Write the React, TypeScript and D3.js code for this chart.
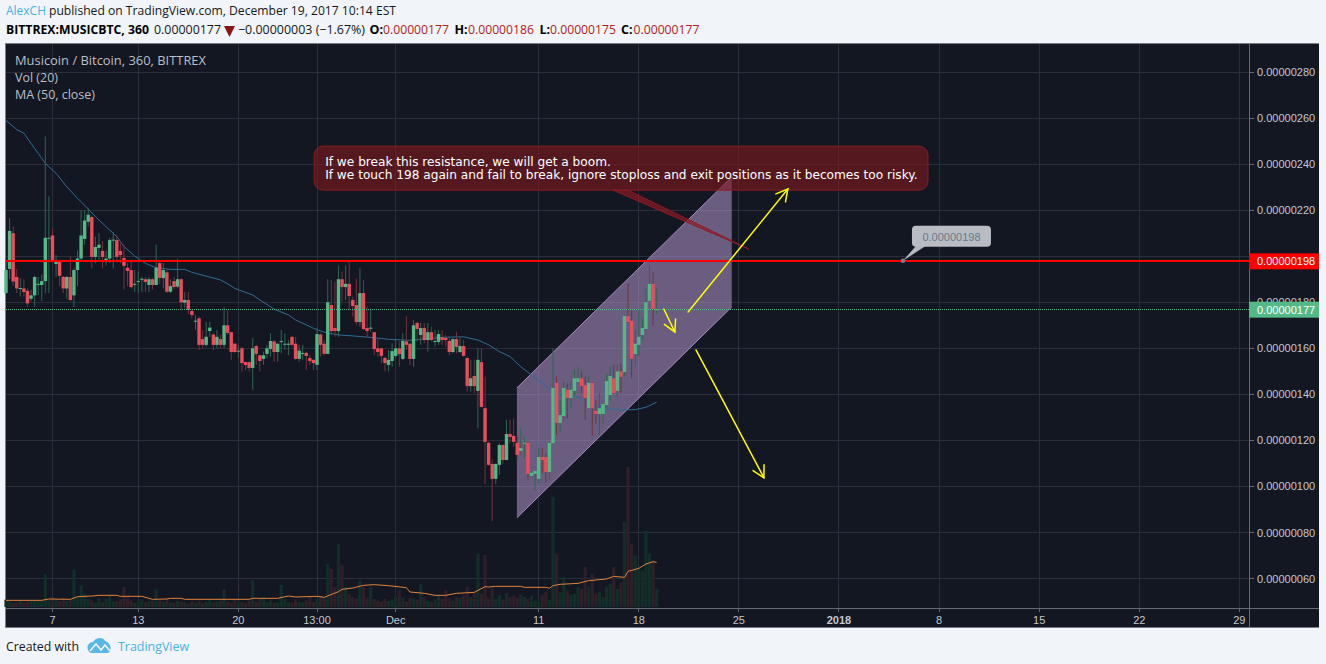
import React from "react";
import * as d3 from "d3";

const opens = [
184,194.5,210,191,185.8,186,185,181.5,183,187.7,
187.5,189.2,207.6,209,196.6,198,191,186,191,183,
194,199,207.5,215,217,199.7,203.6,202.3,197.5,199,
206.8,207,202.3,199.2,195,194,187.7,188.8,189.8,190,
187.5,190,187.5,197,190.5,193,184.6,189.2,186.8,190,
179.8,181,176.2,171.6,173,164,161.5,167.5,166,161.5,
164,161.5,170,167,162,158.6,160,154,154,151.5,
161,157,155.4,157.6,159.7,163,158.4,162.9,161.6,161.6,
165,162,155.4,157.7,158,155.8,155,152.8,166,162,
157.6,178.8,168.8,167.5,190,186.6,188,181,178.8,171.4,
184,168.8,168.5,167,160,160,155.8,152.8,154.5,156.7,
160,155.4,163,162,155.4,171,165.8,168.8,163.6,167,
162.9,162.8,164.8,164.5,163.2,158.4,164,158.4,161,155.8,
143.6,148,141.5,154,134,119,109.8,103.3,109.4,118,
111.5,122.8,122,119,115.4,118.6,119,104.6,105.5,103.3,
112.8,112.8,106.3,118.8,145,127.6,130.6,142,138.4,141.5,
145.4,147,144,134,145,132.8,131.5,131.5,135.4,139.7,
147,141.5,150,149.7,174,172,157.5,161.5,165.8,168.4,
180.6,188,177];

const closes = [
194,211,189,186,186.2,184.5,179.5,183,191,188,
189.2,208,208,197.5,198,191.5,186,191,181,194,
199,209,215.5,218,199.7,204,205,199.7,199,207,
207.2,199.7,200.5,195.8,193.6,186.6,188,189.2,190.2,188.8,
190,187.5,195,190.6,194,184.6,187,186.6,190,180,
181,176.7,174.5,172,161.5,161.5,165,169,161.5,165,
161.5,170,166.7,158.4,158.4,159,153.6,152.8,151.5,160,
157.6,154.5,157,160,163.2,158.4,162,163.2,162,162,
161.5,155.4,159,158,156.7,154.5,153.6,166.2,161.5,157.6,
180,167.5,167.5,190,186.6,188,182.7,178.4,171.4,184,
168.4,167.5,169,159.7,158.4,156.7,153.6,155,158.8,160,
157.5,163.2,161.5,155.4,170,168.4,168.8,163.6,167,163.6,
163.2,166.2,163.6,163.6,158.4,164,160.6,161,156.7,143.6,
147,143.6,155,134.5,119.4,109.4,103.3,109.8,118,111.5,
122.8,121.5,119.4,113.7,116.7,119,105.5,106,106.8,112.8,
111.5,106.3,119,142.8,127.6,131,142.8,138.4,142,147,
147,143.6,138.4,145,134,131.5,134,135.8,145.8,148,
140.6,150,147.6,174,171.4,155.4,162,165,168.8,180,
188,177.1,177];

const highs = [
198.5,216.5,213,194.5,190.5,190,186,185.5,191.5,191,
192,252,226,212,200.5,198.5,191.5,191.5,200,195,
202.5,220,220,221,217.5,208.5,210,206.5,202.5,208,
210.5,209,205.5,205,197,198.5,194,193.5,191,191,
191,190.5,205,197.5,197,194,190,191,199,190.5,
184.5,184.5,176.7,174.5,173.8,168,171.5,171.5,166.5,168,
165.8,178,176.7,167.2,162.5,161.5,160.7,154.2,154.2,164.5,
161.5,157.2,158.6,161.5,166.5,163.6,162.3,168,166.5,163.6,
165.2,165,161.5,161.5,158.6,157,155.3,168.7,166.5,163.6,
190,189.7,189,196,193.3,196,197.5,182.4,190.4,194.7,
189.7,178,176.6,167.2,164.4,160.2,156.4,159.3,162.2,163.6,
163,166.5,174,162.2,172.3,171.6,171,171,171,169.4,
168,168,168,165.8,165,164.4,167.2,164.4,163.6,156.4,
155,155,160,160,147.7,119.5,111.8,110,118.8,118.5,
129,129,129.6,121.7,125.7,121.7,119.5,106.5,107,116.6,
116.6,114.4,119.5,160,148,137.6,145.5,144.8,145.5,150.6,
152,150,147.7,147.7,145.2,137.6,140.5,136.1,149.2,152,
153,153,153.5,174.5,188,176.6,168,176.6,173,186,
196,193,186];

const lows = [
184,190,187,184,182.5,182.5,178,180.5,178,183,
180.5,184,184,197,191,187,184,181.5,180.5,178,
187,197.5,205,213,194.7,197,198.5,194.7,196,197,
194.7,197.5,197,185.5,187,186,184.5,184,184.5,184.5,
184.5,185.5,187.5,188,186,184,184,185.5,186,176.7,
177.5,175,173,168,159.3,160,160.7,165,159.3,160,
160,160,165.8,155,158,155.7,150,150.6,150,142,
152.8,150,152.8,155.7,156.4,154.2,154.2,157.8,159.3,157,
160.7,155,154.2,155,150.6,152.8,150.6,150.6,156.4,157,
157.5,165.8,165,165,180.3,181,176.6,173.8,170,169.4,
168,165,167.2,157,156.4,153.5,150,150,152,155.7,
152,155,159.3,152.8,152,163,161.5,162.2,158.6,163,
160.7,161.5,161.5,160.7,157,157.8,157.8,157.8,156.4,141.2,
141.2,140.5,125.3,134.5,101,109,85,101,105,110,
111.5,118.8,117.3,112.3,113.7,112.3,103,104.3,98.2,101.4,
105.8,101.7,103,118.8,122.4,123.8,129,129.6,134,139.7,
144.8,140.5,129,134,122,127.4,122.4,127.4,134.7,137.6,
140.5,139.3,140.5,147.7,171,147,152,156.4,163.6,168,
180.3,170,175];

const volumes = [
22,18,12,14,20,12,16,18,20,18,
20,98,22,30,25,18,28,18,24,111,
30,65,40,25,20,12,26,14,24,34,
16,18,24,60,35,20,12,16,22,14,
18,20,53,22,16,28,14,12,18,16,
14,10,18,12,20,10,16,22,14,16,
20,53,16,12,22,12,14,10,20,81,
16,24,30,14,20,12,14,66,24,14,
12,22,16,14,20,30,14,26,34,28,
129,114,60,189,125,60,40,30,25,79,
62,28,60,24,20,16,24,18,22,30,
50,28,16,28,24,22,68,30,20,16,
22,36,24,50,26,20,30,28,36,60,
30,44,161,40,156,28,56,24,36,22,
42,30,34,28,38,30,24,34,20,16,
38,46,22,330,160,44,90,50,38,40,
60,54,120,62,100,40,46,30,62,70,
120,54,72,255,420,190,155,120,110,228,
160,140,55];

const maIdx = [0,3,5,7,9,11,14,17,20,21,23,25,28,31,33,36,39,42,46,50,52,53,60,62,64,69,71,75,79,81,83,86,89,93,97,103,107,113,118,122,128,132,135,138,141,144,147,150,153,155,160,164,167,171,176,179,182];
const maVal = [259,255,253.4,249,244.7,240.3,236,230.2,225.1,223.7,220.5,217.2,212.8,208.5,204.2,200.1,196.9,195,194.3,194.3,193,192.6,189.7,188,186,183.2,181,177,174.5,172.3,170.9,168.7,167,165.8,165.4,164.6,163.9,163.5,164.2,164.8,165,163.6,161.5,158.6,156.4,152,148.4,144.8,141.2,140,138.7,135.4,134.4,133.2,133.4,134.4,136.6];

const volMaIdx = [0,10,12,18,20,24,26,31,32,38,41,45,46,49,50,68,69,76,79,81,87,89,93,94,97,100,103,107,112,113,117,120,123,126,131,134,135,137,144,145,151,152,153,155,160,163,168,170,173,174,177,179,181,182];
const volMaVal = [20,20,24,23,31,33,35,35,32,32,23,24,26,26,23,23,26,26,33,30,32,29,46,53,57,65,67,64,58,45,41,35,35,41,44,61,60,62,62,59,59,56,64,68,71,79,84,92,89,107,116,129,136,134];

const priceGrid = [280,260,240,220,200,180,160,140,120,100,80,60];
const priceLabels = [280,260,240,220,180,160,140,120,100,80,60];
const timeTickIdx = [13,37,65,87,109,149,177,205,233,261,289,317,345];
const timeTickLabels = ["7","13","20","13:00","Dec","11","18","25","2018","8","15","22","29"];

const channelPts = [[142.9,142.8],[142.9,86.4],[203,178],[203,234.4]];
const arrowLines = [
  [[190.8,175.8],[218.7,229.2]],
  [[184,177.1],[187.1,167.1]],
  [[193,159.3],[212,103.8]],
];
const resistance = 198;
const lastPrice = 177;
const calloutBox = { i0: 86.2, i1: 257.9, p0: 247.8, p1: 228.7 };
const calloutTail = [[169.8,228.7],[207.8,203.1],[174,228.7]];
const tagAnchor = [250.9, 198];
const calloutLines = [
  "If we break this resistance, we will get a boom.",
  "If we touch 198 again and fail to break, ignore stoploss and exit positions as it becomes too risky.",
];

const x = d3.scaleLinear().domain([0, 345]).range([6, 6 + 345 * 3.575]);
const y = d3.scaleLinear().domain([60, 280]).range([578.6, 72]);
const v = d3.scaleLinear().domain([0, 300]).range([607, 507]);
const fmt = (p: number) => "0." + String(Math.round(p)).padStart(8, "0");

const UP = "#53b987", DOWN = "#eb4d5c", UPW = "#2f6653", DOWNW = "#74333f";
const GRID = "#2a2e3a", BG = "#131722", PAGE = "#f1f4f8";
const SANS = "'Open Sans', sans-serif";
const ARIAL = "'Liberation Sans', Arial, sans-serif";

function Arrow({ a, b }: { a: number[]; b: number[] }) {
  const [x0, y0, x1, y1] = [x(a[0]), y(a[1]), x(b[0]), y(b[1])];
  const ang = Math.atan2(y1 - y0, x1 - x0);
  const len = 13, sp = 0.5;
  const head = (s: number) => [x1 - len * Math.cos(ang + s * sp), y1 - len * Math.sin(ang + s * sp)];
  const p = head(1), q = head(-1);
  return (
    <g stroke="#ffff00" strokeWidth={1.5} fill="none" strokeLinecap="round">
      <line x1={x0} y1={y0} x2={x1} y2={y1} />
      <path d={`M${p[0]},${p[1]}L${x1},${y1}L${q[0]},${q[1]}`} />
    </g>
  );
}

export default function App() {
  const maLine = d3.line<number>().x((i) => x(i)).y((_, k) => y(maVal[k]));
  const volLine = d3.line<number>().x((i) => x(i)).y((_, k) => v(volMaVal[k]));
  const yRes = y(resistance), yLast = y(lastPrice);
  const box = { x: x(calloutBox.i0), w: x(calloutBox.i1) - x(calloutBox.i0), y: y(calloutBox.p0), h: y(calloutBox.p1) - y(calloutBox.p0) };
  const tx = x(tagAnchor[0]), ty = y(tagAnchor[1]);
  const L = 6, R = 1250, PR = 1319, T = 44, B = 627, AX = 608;
  return (
    <svg width={1326} height={664} style={{ position: "absolute", left: 0, top: 0, display: "block" }}>
      <rect width={1326} height={664} fill={PAGE} />
      <rect x={5} y={43} width={PR - 5} height={B - 43 + 1} fill="#7b7e87" />
      <rect x={L} y={T} width={PR - L} height={B - T} fill={BG} />

      {/* grid */}
      <g stroke={GRID} strokeWidth={1} shapeRendering="crispEdges">
        {priceGrid.map((p) => <line key={p} x1={L} x2={R} y1={y(p)} y2={y(p)} />)}
        {timeTickIdx.map((i) => <line key={i} x1={x(i)} x2={x(i)} y1={T} y2={AX} />)}
      </g>

      {/* channel */}
      <polygon points={channelPts.map((p) => `${x(p[0])},${y(p[1])}`).join(" ")} fill="rgb(179,152,205)" fillOpacity={0.55} />
      <line x1={x(channelPts[0][0])} y1={y(channelPts[0][1])} x2={x(channelPts[3][0])} y2={y(channelPts[3][1])} stroke="#a88cc2" />
      <line x1={x(channelPts[1][0])} y1={y(channelPts[1][1])} x2={x(channelPts[2][0])} y2={y(channelPts[2][1])} stroke="#a88cc2" />

      {/* volume */}
      <g>
        {volumes.map((vol, i) => (
          <rect key={i} x={x(i) - 1.6} y={v(vol)} width={3.2} height={v(0) - v(vol)}
            fill={closes[i] >= opens[i] ? "#132e28" : "#2e1f29"} />
        ))}
      </g>
      <path d={volLine(volMaIdx) || ""} fill="none" stroke="#e0833a" strokeWidth={1} />
      <path d={maLine(maIdx) || ""} fill="none" stroke="#2f6d94" strokeWidth={1} />

      {/* candles */}
      <g>
        {opens.map((o, i) => {
          const c = closes[i], up = c >= o, cx = x(i);
          const top = y(Math.max(o, c)), bot = y(Math.min(o, c));
          return (
            <g key={i}>
              <rect x={cx - 0.5} y={y(highs[i])} width={1} height={y(lows[i]) - y(highs[i])} fill={up ? UPW : DOWNW} />
              <rect x={cx - 1.7} y={top} width={3.4} height={Math.max(1, bot - top)} fill={up ? UP : DOWN} />
            </g>
          );
        })}
      </g>

      {/* price lines */}
      <line x1={L} x2={R} y1={yLast} y2={yLast} stroke={UP} strokeWidth={1} strokeDasharray="1 1" shapeRendering="crispEdges" />
      <rect x={L} y={yRes - 1} width={R - L} height={2} fill="#ff0000" shapeRendering="crispEdges" />

      {/* callout */}
      <polygon points={calloutTail.map((p) => `${x(p[0])},${y(p[1])}`).join(" ")} fill="rgba(150,25,30,0.65)" stroke="#8a1c24" strokeWidth={1} />
      <rect x={box.x} y={box.y} width={box.w} height={box.h} rx={9} fill="rgba(130,25,30,0.6)" stroke="#8a1c24" strokeWidth={1} />
      <g fill="#ffffff" fontFamily="'DejaVu Sans', sans-serif" fontSize={12.15}>
        {calloutLines.map((t, k) => (
          <text key={k} x={box.x + 11} y={box.y + 20 + k * 13}>{t}</text>
        ))}
      </g>

      {/* arrows */}
      {arrowLines.map((a, k) => <Arrow key={k} a={a[0]} b={a[1]} />)}

      {/* price tag */}
      <polygon points={`${tx},${ty} ${tx + 14},${ty - 16} ${tx + 23},${ty - 15}`} fill="#b4b8bd" />
      <circle cx={tx} cy={ty} r={2.2} fill="#78808a" />
      <rect x={tx + 9} y={ty - 35} width={79} height={21} rx={4} fill="#b9bdc2" />
      <text x={tx + 48.5} y={ty - 20} fontFamily={ARIAL} fontSize={11} fill="#657a8c" textAnchor="middle">{fmt(resistance)}</text>

      {/* right axis */}
      <rect x={R - 1} y={T} width={1} height={B - T} fill="#666a73" shapeRendering="crispEdges" />
      <rect x={L} y={AX} width={PR - L} height={1} fill="#666a73" shapeRendering="crispEdges" />
      <g fontFamily={ARIAL} fontSize={11} fill="#c4c7cd">
        {priceLabels.map((p) => (
          <g key={p}>
            <line x1={R} x2={R + 4} y1={y(p)} y2={y(p)} stroke="#666a73" shapeRendering="crispEdges" />
            <text x={R + 7} y={y(p) + 4}>{fmt(p)}</text>
          </g>
        ))}
      </g>
      <rect x={R - 1} y={yRes - 7.5} width={PR - R + 1} height={16} fill="#ff0000" />
      <text x={R + 7} y={yRes + 4.5} fontFamily={ARIAL} fontSize={11} fill="#fff">{fmt(resistance)}</text>
      <rect x={R - 1} y={yLast - 7.5} width={PR - R + 1} height={16} fill={UP} />
      <text x={R + 7} y={yLast + 4.5} fontFamily={ARIAL} fontSize={11} fill="#fff">{fmt(lastPrice)}</text>

      {/* bottom axis */}
      <g fontFamily={ARIAL} fontSize={11} fill="#c4c7cd" textAnchor="middle">
        {timeTickIdx.map((i, k) => (
          <g key={i}>
            <line x1={x(i)} x2={x(i)} y1={AX} y2={AX + 4} stroke="#666a73" shapeRendering="crispEdges" />
            <text x={x(i)} y={624} fontWeight={timeTickLabels[k] === "2018" ? "bold" : "normal"}>{timeTickLabels[k]}</text>
          </g>
        ))}
      </g>

      {/* legend */}
      <g fontFamily={SANS} fontSize={12.5} fill="#bcbfc6">
        <text x={15} y={65} textLength={191} lengthAdjust="spacingAndGlyphs">Musicoin / Bitcoin, 360, BITTREX</text>
        <text x={15} y={82} textLength={43} lengthAdjust="spacingAndGlyphs">Vol (20)</text>
        <text x={15} y={99} textLength={80} lengthAdjust="spacingAndGlyphs">MA (50, close)</text>
      </g>

      {/* header */}
      <g fontFamily={SANS} fontSize={12.5}>
        <text x={6} y={15} fill="#45b3e7" textLength={40} lengthAdjust="spacingAndGlyphs">AlexCH</text>
        <text x={49} y={15} fill="#131722" textLength={347} lengthAdjust="spacingAndGlyphs">published on TradingView.com, December 19, 2017 10:14 EST</text>
        <text x={6} y={34} fill="#000" fontWeight="bold" textLength={143} lengthAdjust="spacingAndGlyphs">BITTREX:MUSICBTC, 360</text>
        <text x={154} y={34} fill="#131722" textLength={67} lengthAdjust="spacingAndGlyphs">{fmt(177)}</text>
        <polygon points="224,26 235,26 229.5,37" fill="#8b1414" />
        <text x={238} y={34} fill="#131722" textLength={127} lengthAdjust="spacingAndGlyphs">−0.00000003 (−1.67%)</text>
        {[
          ["O:", 369.5, 383, "0.00000177"],
          ["H:", 454.5, 468, "0.00000186"],
          ["L:", 539.5, 550, "0.00000175"],
          ["C:", 621, 633.5, "0.00000177"],
        ].map((r) => (
          <g key={r[0] as string}>
            <text x={r[1] as number} y={34} fill="#000" fontWeight="bold">{r[0]}</text>
            <text x={r[2] as number} y={34} fill="#b01c1c" textLength={66} lengthAdjust="spacingAndGlyphs">{r[3]}</text>
          </g>
        ))}
      </g>

      {/* footer */}
      <text x={6} y={651} fontFamily={SANS} fontSize={12.5} fill="#131722" textLength={73} lengthAdjust="spacingAndGlyphs">Created with</text>
      <path d="M88,650 C86,645 90,642 93,642 C95,638 103,636 105,641 C109,642 112,647 110,651 C110,653 106,653 105,653 L92,653 C90,653 89,652 88,650Z" fill="#5ab7e6" />
      <path d="M90,651 L96,644 L101,650 L105,645 L110,651" fill="none" stroke={PAGE} strokeWidth={1.6} />
      <text x={118} y={651} fontFamily={SANS} fontSize={12.5} fill="#45b3e7" textLength={71} lengthAdjust="spacingAndGlyphs">TradingView</text>
    </svg>
  );
}
